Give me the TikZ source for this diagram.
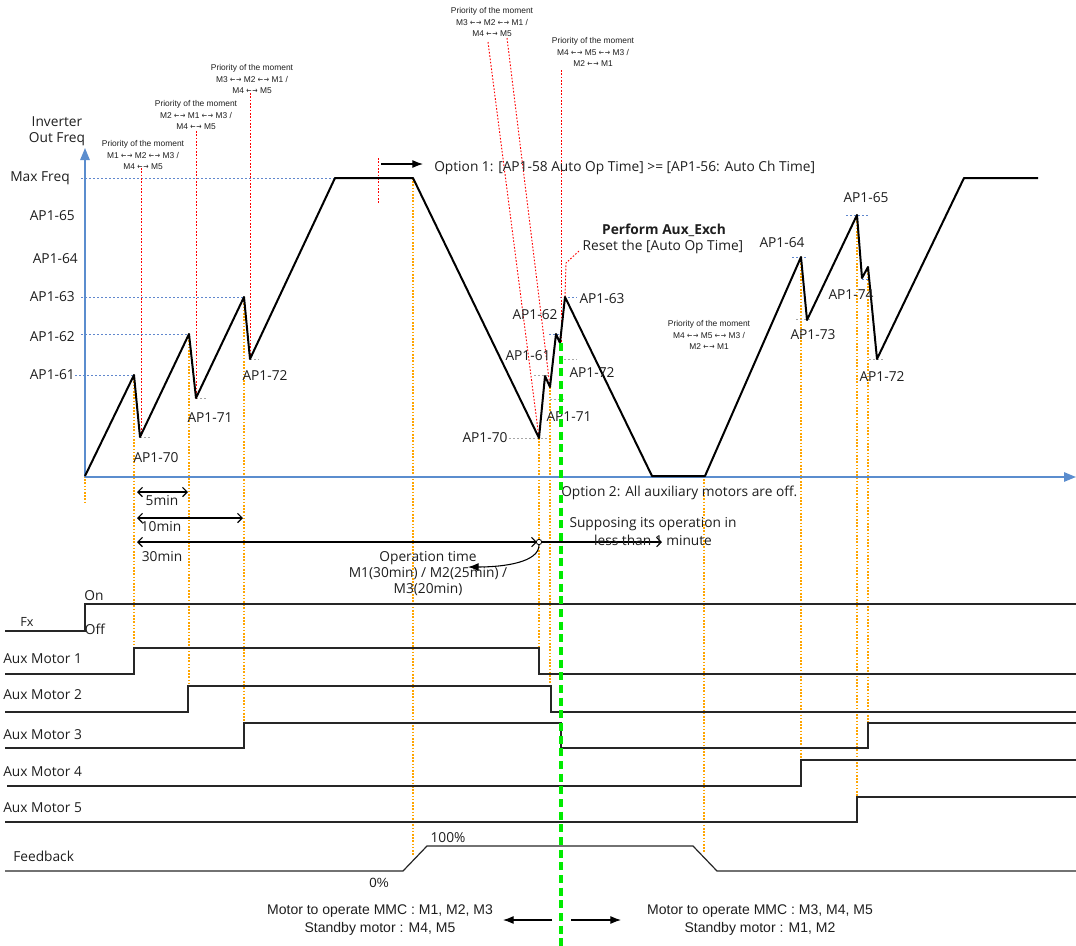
\documentclass[tikz,border=0pt]{standalone}
\usepackage{fontspec}
\usepackage{graphicx}
\setmainfont{Open Sans}
\newfontfamily\arialf{Liberation Sans}
\newfontfamily\arrf{DejaVu Sans}
\usetikzlibrary{arrows.meta}
\definecolor{axblue}{RGB}{91,141,206}
\definecolor{lvblue}{RGB}{68,114,196}
\definecolor{oran}{RGB}{255,165,0}
\definecolor{redd}{RGB}{255,0,0}
\definecolor{grn}{RGB}{0,235,0}
\definecolor{txt}{RGB}{30,30,30}
\newcommand{\arw}{{\arrf\scalebox{0.75}[1]{←}\kern0.6pt\scalebox{0.75}[1]{→}}}
\tikzset{
 bh/.tip={Straight Barb[length=3.5pt,width=7pt]},
 fh/.tip={Latex[length=8pt,width=6pt]},
 ah/.tip={Triangle[length=9pt,width=7pt]},
}
\begin{document}
\begin{tikzpicture}[x=0.75pt,y=-0.75pt,
 lbl/.style={font=\fontsize{10.3}{12}\selectfont,text=txt,inner sep=0pt},
 sm/.style={font=\arialf\fontsize{6.3}{8.3}\selectfont,text=txt,align=center,inner sep=0pt},
 btm/.style={font=\arialf\fontsize{10.5}{13.5}\selectfont,text=txt,align=center,inner sep=0pt},
 wave/.style={line width=1.5pt,line join=round,black},
 sig/.style={line width=0.9pt,black!85},
 odot/.style={oran,line width=0.8pt,dash pattern=on 1.2pt off 1.2pt},
 rdot/.style={redd,line width=0.7pt,dash pattern=on 1.2pt off 1.3pt},
 bdot/.style={lvblue!85,line width=0.7pt,dash pattern=on 1.5pt off 1.5pt},
 gdot/.style={gray!70,line width=0.7pt,dash pattern=on 1.5pt off 1.5pt},
 axis/.style={axblue,line width=1.3pt},
 barb/.style={line width=0.8pt,black},
]
\useasboundingbox (0,0) rectangle (1076,946);

% ---------- dotted guide lines ----------
\draw[bdot] (81,178) -- (335,178);
\draw[bdot] (81,297) -- (244,297);
\draw[bdot] (81,334) -- (189,334);
\draw[bdot] (75,375) -- (134,375);
\draw[bdot] (549,334) -- (560,334);
\draw[bdot] (560,297) -- (577,297);
\draw[bdot] (792,257) -- (806,257);
\draw[bdot] (846,215) -- (870,215);
\draw[bdot] (862,279) -- (869,279);
\draw[gdot] (140,437) -- (152,437);
\draw[gdot] (196,398) -- (208,398);
\draw[gdot] (250,359) -- (259,359);
\draw[gdot] (509,438) -- (547,438);
\draw[gdot] (534,375) -- (548,375);
\draw[gdot] (560,359) -- (577,359);
\draw[gdot] (550,399) -- (564,399);
\draw[gdot] (796,319) -- (810,319);
\draw[gdot] (869,359) -- (884,359);

\draw[odot] (85,476) -- (85,502);
\draw[odot] (134,375) -- (134,648);
\draw[odot] (189,334) -- (189,686);
\draw[odot] (244,297) -- (244,723);
\draw[odot] (413,178) -- (413,855);
\draw[odot] (539,438) -- (539,648);
\draw[odot] (550,387) -- (550,686);
\draw[odot] (704,476) -- (704,853);
\draw[odot] (801,257) -- (801,760);
\draw[odot] (857,215) -- (857,797);
\draw[odot] (868,267) -- (868,723);

\draw[rdot] (141,168) -- (141,437);
\draw[rdot] (196,131) -- (196,398);
\draw[rdot] (250,93) -- (250,359);
\draw[rdot] (378,158) -- (378,203);
\draw[rdot] (488,42) -- (539,438);
\draw[rdot] (507,38) -- (550,387);
\draw[rdot] (561,70) -- (561,343);
\draw[rdot] (565,297) -- (566,263) -- (579,251);

% ---------- axes ----------
\coordinate (O) at (85,477);
\coordinate (Ytop) at (85,148);
\coordinate (Xend) at (1076,477);
\draw[axis,-{ah}] (O) -- (Ytop);
\draw[axis,-{ah}] (O) -- (Xend);

% ---------- waveform ----------
\draw[wave] (85,476) -- (134,375) -- (140,437) -- (189,334) -- (196,398) -- (244,297) -- (250,359)
 -- (335,178) -- (413,178) -- (539,438) -- (545,376) -- (550,387) -- (556,334) -- (560,343)
 -- (565,297) -- (652,476) -- (705,476) -- (801,257) -- (807,320) -- (857,215) -- (862,278)
 -- (868,267) -- (877,359) -- (964,178) -- (1038,178);

% ---------- axis labels ----------
\node[lbl,align=center] (inv) at (57,131) {Inverter\\Out Freq};
\node[lbl] (lmax) at (40,178) {Max Freq};
\node[lbl,anchor=east] (l65) at (75,216) {AP1-65};
\node[lbl,anchor=east] (l64) at (78,259) {AP1-64};
\node[lbl,anchor=east] (l63) at (75,297) {AP1-63};
\node[lbl,anchor=east] (l62) at (75,337) {AP1-62};
\node[lbl,anchor=east] (l61) at (75,375) {AP1-61};

\node[lbl] (t70) at (156,458) {AP1-70};
\node[lbl] (t71) at (210,418) {AP1-71};
\node[lbl] (t72) at (265,376) {AP1-72};

\node[lbl] (m70) at (485,438) {AP1-70};
\node[lbl] (m61) at (528,356) {AP1-61};
\node[lbl] (m62) at (535,315) {AP1-62};
\node[lbl] (m63) at (602,299) {AP1-63};
\node[lbl] (m72) at (592,373) {AP1-72};
\node[lbl] (m71) at (569,417) {AP1-71};

\node[lbl] (r64) at (782,243) {AP1-64};
\node[lbl] (r65) at (866,198) {AP1-65};
\node[lbl] (r73) at (813,335) {AP1-73};
\node[lbl] (r74) at (851,295) {AP1-74};
\node[lbl] (r72) at (882,377) {AP1-72};

% ---------- priority notes ----------
\node[sm] (p1) at (143,155) {Priority of the moment\\M1 \arw{} M2 \arw{} M3 /\\M4 \arw{} M5};
\node[sm] (p2) at (196,115) {Priority of the moment\\M2 \arw{} M1 \arw{} M3 /\\M4 \arw{} M5};
\node[sm] (p3) at (252,79) {Priority of the moment\\M3 \arw{} M2 \arw{} M1 /\\M4 \arw{} M5};
\node[sm] (p4) at (492,22) {Priority of the moment\\M3 \arw{} M2 \arw{} M1 /\\M4 \arw{} M5};
\node[sm] (p5) at (593,52) {Priority of the moment\\M4 \arw{} M5 \arw{} M3 /\\M2 \arw{} M1};
\node[sm] (p6) at (709,335) {Priority of the moment\\M4 \arw{} M5 \arw{} M3 /\\M2 \arw{} M1};

% ---------- option notes ----------
\coordinate (o1s) at (381,164);
\coordinate (o1e) at (423,164);
\draw[barb,-{fh}] (o1s) -- (o1e);
\node[lbl,anchor=west] (opt1) at (434,168) {Option 1: [AP1-58 Auto Op Time] >= [AP1-56: Auto Ch Time]};
\node[lbl,font=\bfseries\fontsize{10.3}{12}\selectfont] (perf) at (664,230) {Perform Aux\_Exch};
\node[lbl] (reset) at (663,247) {Reset the [Auto Op Time]};
\node[lbl,anchor=west] (opt2) at (561,493) {Option 2: All auxiliary motors are off.};

% ---------- time arrows ----------
\coordinate (a5s) at (137,492); \coordinate (a5e) at (188,492);
\coordinate (a10s) at (137,518); \coordinate (a10e) at (243,518);
\coordinate (a30s) at (137,542); \coordinate (a30e) at (537,542);
\draw[barb,{bh}-{bh}] (a5s) -- (a5e);
\draw[barb,{bh}-{bh}] (a10s) -- (a10e);
\draw[barb,{bh}-{bh}] (a30s) -- (a30e);
\node[lbl] (n5) at (162,501) {5min};
\node[lbl] (n10) at (161,527) {10min};
\node[lbl] (n30) at (162,557) {30min};
\node[draw,circle,line width=0.6pt,minimum size=4pt,inner sep=0pt,fill=white] (circ) at (539,542) {};
\coordinate (supe) at (662,542);
\draw[barb,-{bh}] (circ.east) -- (supe);
\node[lbl,align=center,font=\fontsize{10.3}{13.5}\selectfont] (sup) at (653,532) {Supposing its operation in\\less than 1 minute};
\coordinate (curve) at (468,567);
\draw[barb,-{fh}] (circ.south) .. controls (539,562) and (505,567) .. (curve);
\node[lbl,align=center,font=\fontsize{10.3}{12}\selectfont] (optime) at (428,574) {Operation time\\M1(30min) / M2(25min) /\\M3(20min)};

% ---------- timing signals ----------
\draw[sig] (5,631) -- (85,631) -- (85,604) -- (1076,604);
\draw[sig] (5,674) -- (134,674) -- (134,648) -- (539,648) -- (539,674) -- (1076,674);
\draw[sig] (5,712) -- (188,712) -- (188,686) -- (551,686) -- (551,712) -- (1076,712);
\draw[sig] (5,748) -- (244,748) -- (244,723) -- (561,723) -- (561,748) -- (868,748) -- (868,723) -- (1076,723);
\draw[sig] (7,786) -- (801,786) -- (801,760) -- (1076,760);
\draw[sig] (5,822) -- (857,822) -- (857,797) -- (1076,797);
\draw[sig] (5,871) -- (403,871) -- (427,846) -- (693,846) -- (717,871) -- (1076,871);

\node[lbl,font=\fontsize{9.5}{10}\selectfont] (fx) at (27,622) {Fx};
\node[lbl] (on) at (94,596) {On};
\node[lbl] (off) at (95,629) {Off};
\node[lbl,anchor=west] (am1) at (3,659) {Aux Motor 1};
\node[lbl,anchor=west] (am2) at (3,695) {Aux Motor 2};
\node[lbl,anchor=west] (am3) at (3,735) {Aux Motor 3};
\node[lbl,anchor=west] (am4) at (3,772) {Aux Motor 4};
\node[lbl,anchor=west] (am5) at (3,808) {Aux Motor 5};
\node[lbl,anchor=west] (fb) at (13,856) {Feedback};
\node[lbl] (p100) at (448,838) {100\%};
\node[lbl,font=\arialf\fontsize{10}{12}\selectfont] (p0) at (379,883) {0\%};

% ---------- green exchange line ----------
\coordinate (gtop) at (561,343);
\coordinate (gbot) at (561,946);
\draw[grn,line width=3pt,dash pattern=on 6pt off 3.5pt] (gtop) -- (gbot);

% ---------- bottom notes ----------
\node[btm] (bl) at (380,920) {Motor to operate MMC : M1, M2, M3\\Standby motor : M4, M5};
\node[btm] (br) at (760,920) {Motor to operate MMC : M3, M4, M5\\Standby motor : M1, M2};
\coordinate (lal) at (552,920); \coordinate (lar) at (503,920);
\coordinate (ral) at (571,920); \coordinate (rar) at (621,920);
\draw[barb,-{fh}] (lal) -- (lar);
\draw[barb,-{fh}] (ral) -- (rar);
\end{tikzpicture}
\end{document}
